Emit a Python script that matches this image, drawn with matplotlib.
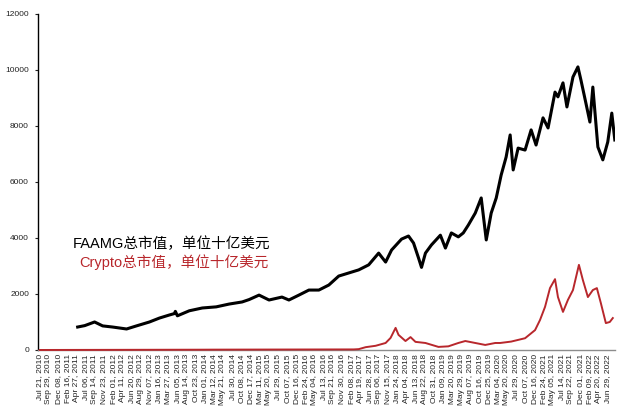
import matplotlib
matplotlib.use("Agg")
import matplotlib.pyplot as plt

plt.rcParams["font.family"] = ["Liberation Sans", "Noto Sans CJK SC", "DejaVu Sans"]

# x-axis category labels (evenly spaced in the source chart)
tick_labels = [
    "Jul 21, 2010", "Sep 29, 2010", "Dec 08, 2010",
    "Feb 16, 2011", "Apr 27, 2011", "Jul 06, 2011", "Sep 14, 2011", "Nov 23, 2011",
    "Feb 01, 2012", "Apr 11, 2012", "Jun 20, 2012", "Aug 29, 2012", "Nov 07, 2012",
    "Jan 16, 2013", "Mar 27, 2013", "Jun 05, 2013", "Aug 14, 2013", "Oct 23, 2013",
    "Jan 01, 2014", "Mar 12, 2014", "May 21, 2014", "Jul 30, 2014", "Oct 08, 2014", "Dec 17, 2014",
    "Mar 11, 2015", "May 20, 2015", "Jul 29, 2015", "Oct 07, 2015", "Dec 16, 2015",
    "Feb 24, 2016", "May 04, 2016", "Jul 13, 2016", "Sep 21, 2016", "Nov 30, 2016",
    "Feb 08, 2017", "Apr 19, 2017", "Jun 28, 2017", "Sep 06, 2017", "Nov 15, 2017",
    "Jan 24, 2018", "Apr 04, 2018", "Jun 13, 2018", "Aug 22, 2018", "Oct 31, 2018",
    "Jan 09, 2019", "Mar 20, 2019", "May 29, 2019", "Aug 07, 2019", "Oct 16, 2019", "Dec 25, 2019",
    "Mar 04, 2020", "May 20, 2020", "Jul 29, 2020", "Oct 07, 2020", "Dec 16, 2020",
    "Feb 24, 2021", "May 05, 2021", "Jul 14, 2021", "Sep 22, 2021", "Dec 01, 2021",
    "Feb 09, 2022", "Apr 20, 2022", "Jun 29, 2022",
]

# positions measured in tick-label units, values in billion USD
faamg_pos = [
    4.13, 4.90, 5.98, 6.86, 7.94, 9.47, 10.55, 11.97, 13.06, 14.15, 14.69, 14.80,
    15.02, 16.32, 17.74, 19.26, 20.67, 22.09, 22.85, 23.94, 25.03, 26.44, 27.20,
    28.29, 29.38, 30.47, 31.56, 32.64, 33.73, 34.82, 35.91, 37.00, 37.76, 38.41,
    39.50, 40.26, 40.81, 41.35, 41.68, 42.11, 42.76, 43.74, 44.29, 44.94, 45.70,
    46.24, 46.79, 47.55, 48.20, 48.75, 49.29, 49.84, 50.38, 50.92, 51.36, 51.69,
    52.23, 52.99, 53.65, 54.19, 54.95, 55.50, 56.26, 56.58, 57.13, 57.56, 58.22,
    58.76, 59.09, 59.63, 60.07, 60.39, 60.94, 61.48, 62.02, 62.46, 62.79,
]
faamg_val = [
    820, 870, 1000, 860, 820, 750, 860, 1000, 1140, 1250, 1300, 1380,
    1220, 1400, 1500, 1540, 1640, 1715, 1800, 1960, 1785, 1890, 1785,
    1960, 2140, 2140, 2320, 2640, 2750, 2860, 3040, 3460, 3140, 3570,
    3960, 4070, 3820, 3290, 2950, 3460, 3750, 4100, 3640, 4180, 4040,
    4180, 4460, 4890, 5430, 3930, 4890, 5430, 6250, 6890, 7680, 6430,
    7210, 7140, 7860, 7320, 8290, 7930, 9210, 9040, 9540, 8680, 9750,
    10110, 9640, 8820, 8140, 9390, 7250, 6790, 7430, 8460, 7500,
]

crypto_pos = [
    0.0, 17.41, 19.04, 34.28, 34.82, 35.58, 36.67, 37.76, 38.30, 38.85, 39.17,
    39.93, 40.48, 41.02, 42.11, 43.53, 44.61, 45.70, 46.46, 47.55, 48.64, 49.73,
    50.27, 51.47, 52.99, 54.08, 54.62, 55.17, 55.71, 56.26, 56.58, 57.13, 57.67,
    58.22, 58.87, 59.30, 59.85, 60.39, 60.83, 61.26, 61.81, 62.24, 62.57,
]
crypto_val = [
    0, 10, 12, 20, 30, 100, 150, 250, 430, 790, 540,
    320, 460, 290, 250, 110, 130, 250, 320, 250, 180, 250,
    250, 300, 420, 710, 1070, 1540, 2210, 2530, 1890, 1360, 1790,
    2140, 3040, 2500, 1890, 2140, 2210, 1680, 960, 1000, 1140,
]

y_ticks = [0, 2000, 4000, 6000, 8000, 10000, 12000]

red = "#b8272c"

fig = plt.figure(figsize=(6.18, 4.09), dpi=100)
ax = fig.add_axes([0.0615, 0.1443, 0.9335, 0.8215])

ax.plot(crypto_pos, crypto_val, color=red, linewidth=1.4, zorder=3, clip_on=False)
ax.plot(faamg_pos, faamg_val, color="black", linewidth=2.2, zorder=4)

ax.set_xlim(-0.2, 62.8)
ax.set_ylim(0, 12000)
ax.set_yticks(y_ticks)
ax.set_yticklabels([str(v) for v in y_ticks])
ax.set_xticks(range(len(tick_labels)))
ax.set_xticklabels(tick_labels, rotation=90)

ax.tick_params(axis="y", labelsize=6, length=2.5, width=0.8, pad=4, colors="#222222")
ax.tick_params(axis="x", labelsize=6, length=0, pad=3, colors="#222222")

for side in ("top", "right"):
    ax.spines[side].set_visible(False)
ax.spines["left"].set_color("black")
ax.spines["left"].set_linewidth(1.0)
ax.spines["bottom"].set_color("#8c8c8c")
ax.spines["bottom"].set_linewidth(1.0)

ax.text(3.6, 3800, "FAAMG总市值，单位十亿美元", fontsize=10.5, color="black",
        ha="left", va="center")
ax.text(4.3, 3120, "Crypto总市值，单位十亿美元", fontsize=10.5, color=red,
        ha="left", va="center")

fig.savefig("out.png", dpi=100)
